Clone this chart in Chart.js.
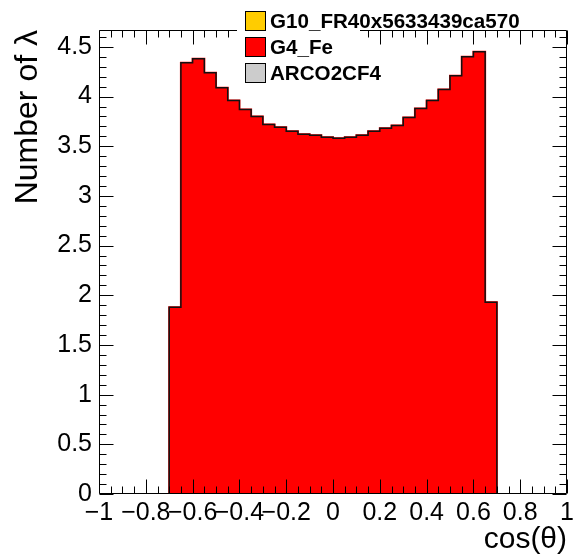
<!DOCTYPE html>
<html><head><meta charset="utf-8">
<script src="https://cdn.jsdelivr.net/npm/chart.js@4/dist/chart.umd.min.js"></script>
<style>html,body{margin:0;padding:0;background:#fff;overflow:hidden}canvas{display:block}</style>
</head><body>
<canvas id="c" width="578" height="558"></canvas>
<script>
// ---- data ----
const binEdges = [-0.70,-0.65,-0.60,-0.55,-0.50,-0.45,-0.40,-0.35,-0.30,-0.25,-0.20,-0.15,-0.10,-0.05,0.00,0.05,0.10,0.15,0.20,0.25,0.30,0.35,0.40,0.45,0.50,0.55,0.60,0.65,0.70];
const g4FeValues = [1.88,4.34,4.38,4.24,4.09,3.96,3.87,3.80,3.72,3.69,3.65,3.62,3.61,3.59,3.58,3.59,3.61,3.65,3.68,3.71,3.79,3.88,3.96,4.07,4.21,4.40,4.45,1.93];
const g10Values = [];
const arcoValues = [];
const seriesNames = ["G10_FR40x5633439ca570", "G4_Fe", "ARCO2CF4"];
const seriesColors = ["#ffcc00", "#ff0000", "#cccccc"];
const xTickValues = [-1,-0.8,-0.6,-0.4,-0.2,0,0.2,0.4,0.6,0.8,1];
const yTickValues = [0,0.5,1,1.5,2,2.5,3,3.5,4,4.5];
const xMinorStep = 0.05, yMinorStep = 0.1;
const xTitle = "cos(\u03b8)";
const yTitle = "Number of \u03bb";

const FONT = "'Liberation Sans', Arial, Helvetica, sans-serif";
const fmt = v => { const r = Math.round(v*100)/100; return (r < 0 ? "\u2212" : "") + String(Math.abs(r)); };

const toBars = vals => vals.map((v,i) => ({x: (binEdges[i]+binEdges[i+1])/2, y: v}));
const outline = [{x: binEdges[0], y: 0}]
  .concat(g4FeValues.map((v,i) => ({x: binEdges[i], y: v})))
  .concat([{x: binEdges[binEdges.length-1], y: 0}]);

const framePlugin = {
  id: 'rootFrame',
  afterDatasetsDraw(chart) {
    const {ctx, chartArea: a, scales: {x, y}} = chart;
    ctx.save();
    ctx.strokeStyle = '#000'; ctx.lineWidth = 1;
    ctx.beginPath();
    const L = Math.round(a.left)+0.5, R = Math.round(a.right)-0.5, T = Math.round(a.top)+0.5, B = Math.round(a.bottom)-0.5;
    ctx.rect(L, T, R-L, B-T);
    const xMajor = 14, xMinor = 7;
    for (let k = 0; k <= Math.round((x.max - x.min)/xMinorStep); k++) {
      const v = x.min + k*xMinorStep;
      const isMajor = xTickValues.some(t => Math.abs(t - v) < 1e-6);
      const len = isMajor ? xMajor : xMinor;
      const px = Math.round(x.getPixelForValue(v)) + 0.5;
      ctx.moveTo(px, B); ctx.lineTo(px, B - len);
      ctx.moveTo(px, T); ctx.lineTo(px, T + len);
    }
    const yMajor = 14, yMinor = 7;
    for (let k = 0; k*yMinorStep <= y.max + 1e-9; k++) {
      const v = k*yMinorStep;
      const isMajor = yTickValues.some(t => Math.abs(t - v) < 1e-6);
      const len = isMajor ? yMajor : yMinor;
      const py = Math.round(y.getPixelForValue(v)) + 0.5;
      ctx.moveTo(L, py); ctx.lineTo(L + len, py);
      ctx.moveTo(R, py); ctx.lineTo(R - len, py);
    }
    ctx.stroke();
    ctx.restore();
  },
  afterDraw(chart) {
    const {ctx} = chart;
    ctx.save();
    ctx.fillStyle = '#fff';
    ctx.fillRect(237, 0, 123, 92);
    const ds = chart.data.datasets.filter(d => d.type !== 'line');
    const centers = [21, 47, 73];
    ds.forEach((d, i) => {
      const cy = centers[i];
      ctx.fillStyle = d.backgroundColor;
      ctx.fillRect(245.5, cy - 9.5, 20, 19);
      ctx.strokeStyle = '#000'; ctx.lineWidth = 1;
      ctx.strokeRect(245.5, cy - 9.5, 20, 19);
      ctx.fillStyle = '#000';
      ctx.font = "bold 20.6px " + FONT;
      ctx.textBaseline = 'middle'; ctx.textAlign = 'left';
      ctx.fillText(d.label, 270, cy + 1);
    });
    ctx.restore();
  }
};

new Chart(document.getElementById('c'), {
  type: 'bar',
  data: {
    datasets: [
      {label: seriesNames[0], data: toBars(g10Values), backgroundColor: seriesColors[0], borderWidth: 0, order: 1},
      {label: seriesNames[1], data: toBars(g4FeValues), backgroundColor: seriesColors[1], borderWidth: 0, order: 1},
      {label: seriesNames[2], data: toBars(arcoValues), backgroundColor: seriesColors[2], borderWidth: 0, order: 1},
      {type: 'line', label: 'outline', data: outline, stepped: 'before', borderColor: '#111', borderWidth: 1.5,
       pointRadius: 0, fill: false, order: 0, tension: 0}
    ]
  },
  options: {
    responsive: false, animation: false, devicePixelRatio: 1,
    layout: {padding: {top: 30, right: 7, left: 0, bottom: 0}},
    datasets: {bar: {grouped: false, barPercentage: 1, categoryPercentage: 1, inflateAmount: 1}},
    plugins: {legend: {display: false}, tooltip: {enabled: false}},
    scales: {
      x: {
        type: 'linear', min: -1, max: 1, offset: false,
        grid: {display: false, drawTicks: false, offset: false}, border: {display: false},
        afterBuildTicks: s => { s.ticks = xTickValues.map(v => ({value: v})); },
        afterFit: s => { s.height = 64; },
        ticks: {autoSkip: false, maxRotation: 0, minRotation: 0, padding: 4, color: '#000',
                font: {family: FONT, size: 25}, callback: v => fmt(v)},
        title: {display: true, text: xTitle, align: 'end', color: '#000',
                font: {family: FONT, size: 30}, padding: {top: 0, bottom: 0}}
      },
      y: {
        type: 'linear', min: 0, max: 4.67,
        grid: {display: false, drawTicks: false}, border: {display: false},
        afterBuildTicks: s => { s.ticks = yTickValues.map(v => ({value: v})); },
        afterFit: s => { s.width = 99; },
        ticks: {padding: 7, color: '#000', font: {family: FONT, size: 25}, callback: v => fmt(v)},
        title: {display: true, text: yTitle, align: 'end', color: '#000',
                font: {family: FONT, size: 32}, padding: {top: 9, bottom: 0}}
      }
    }
  },
  plugins: [framePlugin]
});
</script>
</body></html>
